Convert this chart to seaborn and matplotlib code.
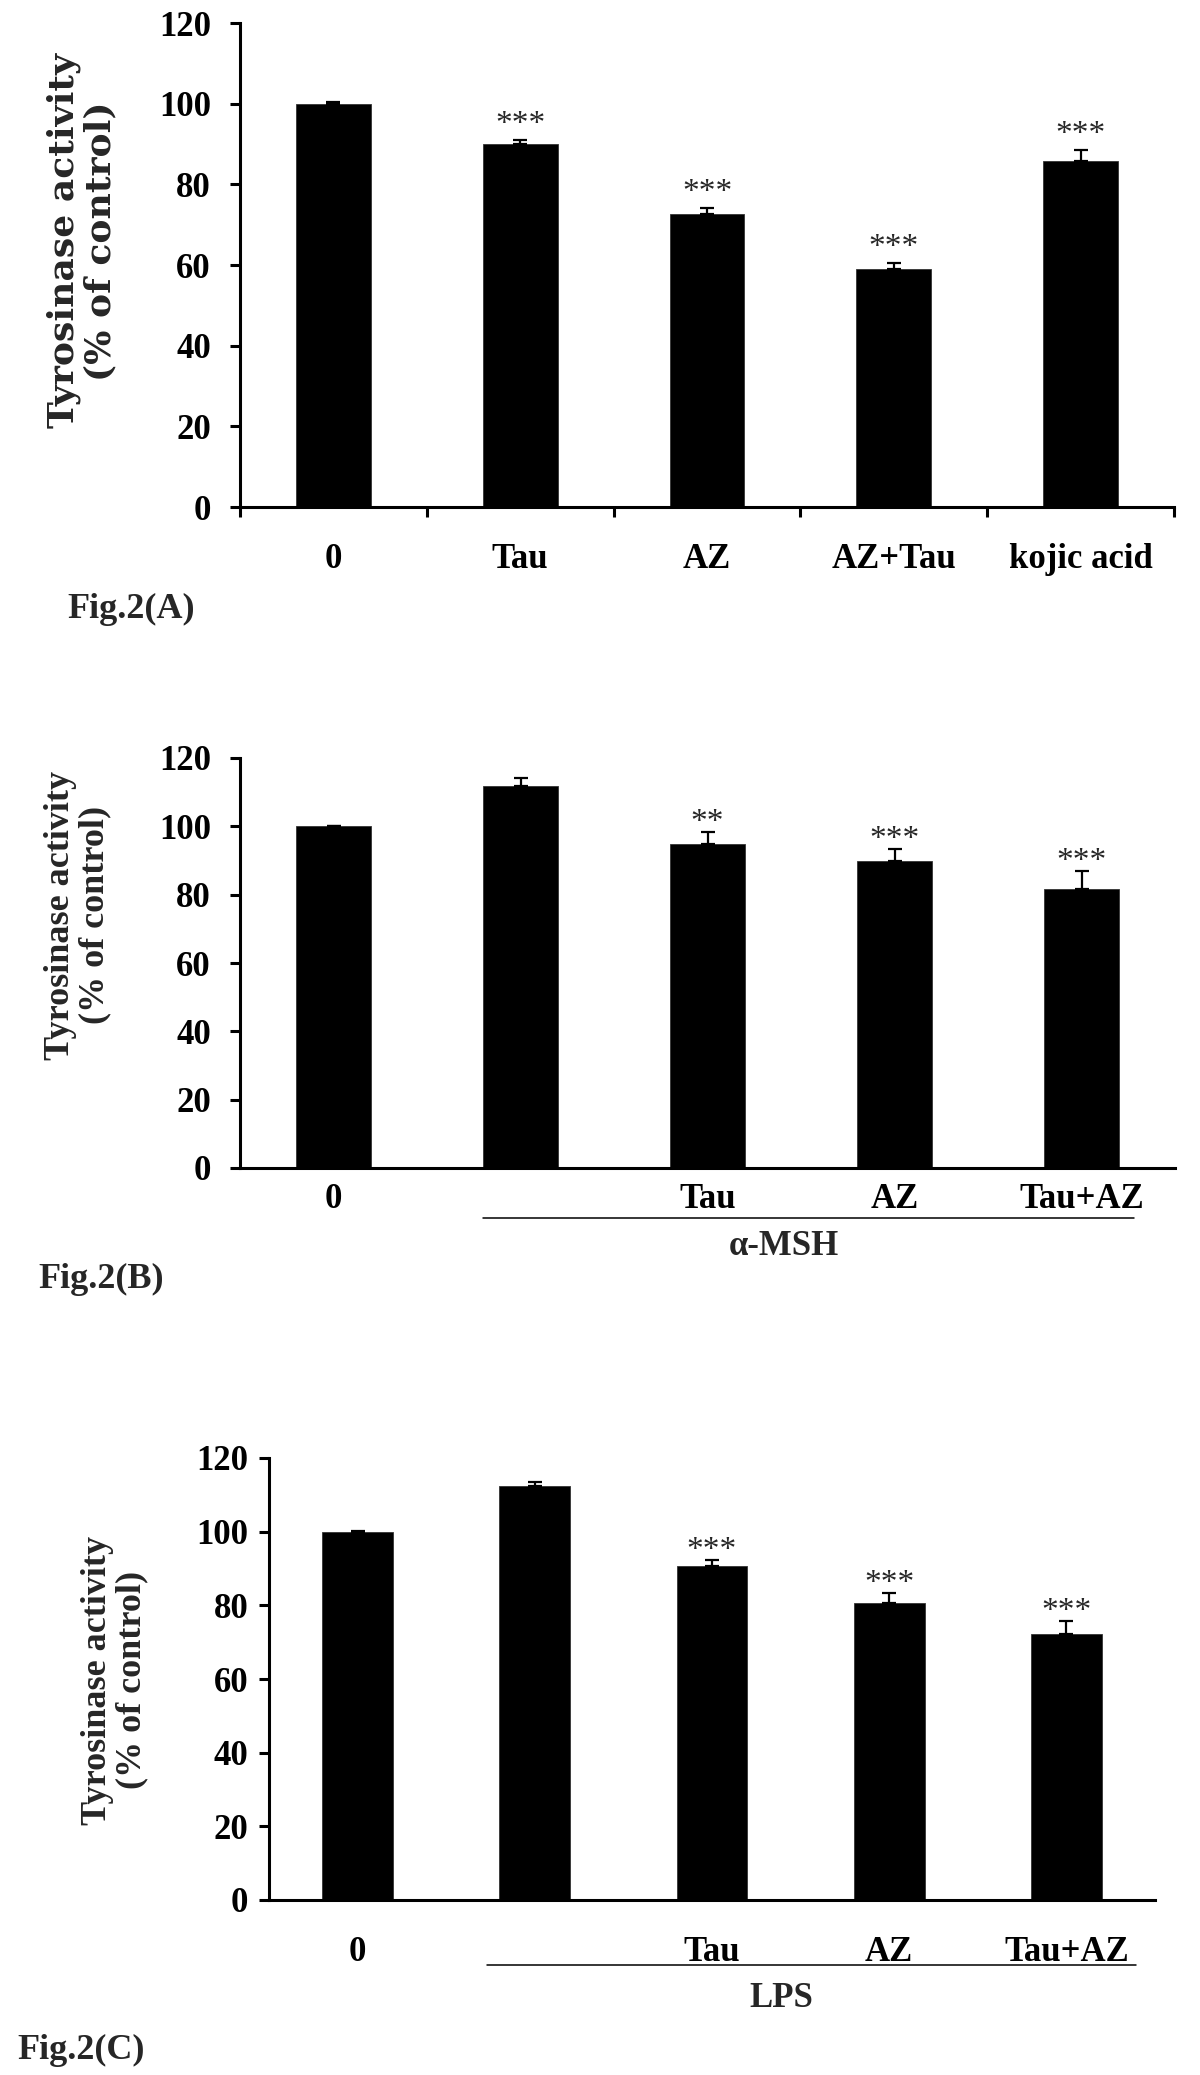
import matplotlib
matplotlib.use("Agg")
import matplotlib.pyplot as plt
import seaborn as sns
import numpy as np

# ---------------- data ----------------
cats_a = ["0", "Tau", "AZ", "AZ+Tau", "kojic acid"]
vals_a = [100.0, 90.0, 72.7, 58.9, 85.8]
err_a = [0.3, 1.1, 1.5, 1.6, 2.8]
sig_a = ["", "***", "***", "***", "***"]

cats_b = ["0", "", "Tau", "AZ", "Tau+AZ"]
vals_b = [100.0, 111.7, 94.8, 89.9, 81.7]
err_b = [0.2, 2.4, 3.6, 3.6, 5.2]
sig_b = ["", "", "**", "***", "***"]

cats_c = ["0", "", "Tau", "AZ", "Tau+AZ"]
vals_c = [100.0, 112.3, 90.6, 80.6, 72.3]
err_c = [0.2, 1.2, 1.8, 2.8, 3.5]
sig_c = ["", "", "***", "***", "***"]

y_ticks = [0, 20, 40, 60, 80, 100, 120]
ylabel_text = "Tyrosinase activity\n(% of control)"
group_b = "α-MSH"
group_c = "LPS"
fig_labels = ["Fig.2(A)", "Fig.2(B)", "Fig.2(C)"]

# ---------------- style ----------------
sns.set_style("ticks")
plt.rcParams["font.family"] = ["Liberation Serif", "DejaVu Serif"]
plt.rcParams["font.weight"] = "bold"

W, H = 1200, 2075
fig = plt.figure(figsize=(W / 100, H / 100), dpi=100)


def axes_px(left, right, top, bottom):
    return fig.add_axes([left / W, 1 - bottom / H, (right - left) / W, (bottom - top) / H])


def draw_panel(ax, cats, vals, errs, sigs, star_off, ypad, xpad, boundary_ticks):
    sns.barplot(x=cats, y=vals, order=cats, color="black", width=0.4,
                saturation=1, errorbar=None, ax=ax, edgecolor="#333333", linewidth=0.6)
    ax.errorbar(np.arange(len(vals)), vals, yerr=[np.zeros(len(errs)), errs],
                fmt="none", ecolor="black", elinewidth=1.6, capsize=5, capthick=1.6,
                zorder=3)
    for i, (v, e, s) in enumerate(zip(vals, errs, sigs)):
        if s:
            ax.annotate(s, xy=(i, v + e), xytext=(0, star_off), textcoords="offset points",
                        ha="center", va="baseline", fontsize=24, fontweight="normal",
                        family="Liberation Serif")
    ax.set_ylim(0, 120)
    ax.set_xlim(-0.5, 4.5)
    ax.set_yticks(y_ticks)
    ax.set_yticklabels([str(t) for t in y_ticks], fontsize=25, fontweight="bold")
    ax.set_xticks(range(len(cats)))
    ax.set_xticklabels(cats, fontsize=25, fontweight="bold")
    ax.set_xlabel("")
    ax.set_ylabel("")
    sns.despine(ax=ax)
    for sp in ("left", "bottom"):
        ax.spines[sp].set_linewidth(2.2)
        ax.spines[sp].set_color("black")
    ax.tick_params(axis="y", direction="out", length=7, width=2.2, pad=ypad, colors="black")
    ax.tick_params(axis="x", which="major", length=0, pad=xpad, colors="black")
    if boundary_ticks:
        ax.set_xticks(np.arange(-0.5, len(cats), 1.0), minor=True)
        ax.tick_params(axis="x", which="minor", direction="out", length=7, width=2.2,
                       colors="black")
    ax.set_facecolor("white")


# Panel A
ax_a = axes_px(240, 1174, 23, 507)
draw_panel(ax_a, cats_a, vals_a, err_a, sig_a, star_off=5, ypad=14, xpad=26,
           boundary_ticks=True)
fig.text(82 / W, 1 - 241 / H, ylabel_text, rotation=90, ha="center", va="center",
         multialignment="center", fontsize=26, fontweight="bold", family="DejaVu Serif",
         linespacing=1.1)

# Panel B
ax_b = axes_px(240, 1175, 758, 1168)
draw_panel(ax_b, cats_b, vals_b, err_b, sig_b, star_off=0.5, ypad=14, xpad=11,
           boundary_ticks=False)
fig.text(78 / W, 1 - 915 / H, ylabel_text, rotation=90, ha="center", va="center",
         multialignment="center", fontsize=26, fontweight="bold",
         family="Liberation Serif", linespacing=1.05)
tr_b = ax_b.get_xaxis_transform()
ax_b.plot([0.8, 4.28], [-0.1225, -0.1225], color="black", lw=1.1, transform=tr_b,
          clip_on=False)
ax_b.text(2.41, -0.191, group_b, transform=tr_b, ha="center", va="center",
          fontsize=25, fontweight="bold")

# Panel C
ax_c = axes_px(269, 1155, 1458, 1900)
draw_panel(ax_c, cats_c, vals_c, err_c, sig_c, star_off=0.5, ypad=8, xpad=26,
           boundary_ticks=False)
fig.text(115 / W, 1 - 1680 / H, ylabel_text, rotation=90, ha="center", va="center",
         multialignment="center", fontsize=26, fontweight="bold",
         family="Liberation Serif", linespacing=1.05)
tr_c = ax_c.get_xaxis_transform()
ax_c.plot([0.73, 4.39], [-0.147, -0.147], color="black", lw=1.1, transform=tr_c,
          clip_on=False)
ax_c.text(2.39, -0.222, group_c, transform=tr_c, ha="center", va="center",
          fontsize=25, fontweight="bold")

# Figure labels
fig.text(67 / W, 1 - 618 / H, fig_labels[0], ha="left", va="baseline", fontsize=26,
         fontweight="bold")
fig.text(38 / W, 1 - 1288 / H, fig_labels[1], ha="left", va="baseline", fontsize=26,
         fontweight="bold")
fig.text(17 / W, 1 - 2059 / H, fig_labels[2], ha="left", va="baseline", fontsize=26,
         fontweight="bold")

fig.savefig("out.png", dpi=100, facecolor="white")
